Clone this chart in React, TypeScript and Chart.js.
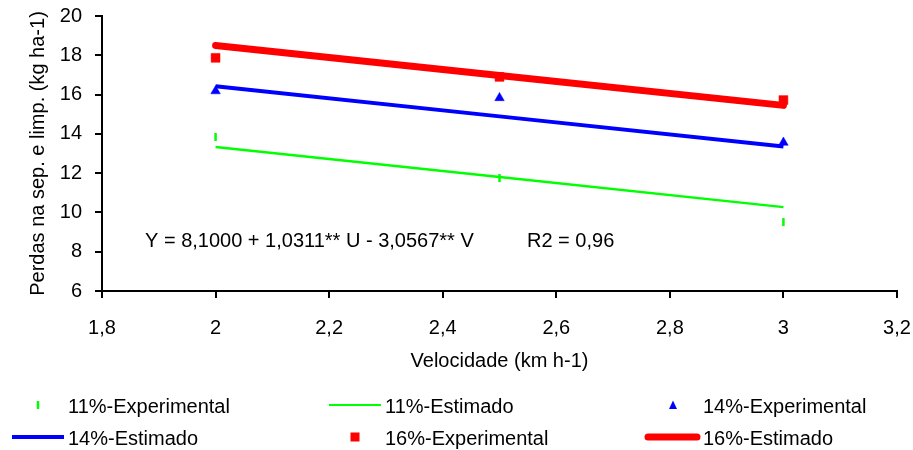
import React, { useEffect, useRef } from 'react';
import { Chart, registerables } from 'chart.js';

Chart.register(...registerables);

// ---- data ----
const xExperimental = [2, 2.5, 3];
const exp11 = [13.84, 11.75, 9.51];
const exp14 = [16.18, 15.83, 13.56];
const exp16 = [17.87, 16.9, 15.72];

const xEstimated = [2, 2.5, 3];
const est11 = [13.33, 11.8, 10.27];
const est14 = [16.42, 14.89, 13.36];
const est16 = [18.5, 16.97, 15.45];

const xTickValues = [1.8, 2, 2.2, 2.4, 2.6, 2.8, 3, 3.2];
const xTickLabels = ['1,8', '2', '2,2', '2,4', '2,6', '2,8', '3', '3,2'];
const yTickValues = [6, 8, 10, 12, 14, 16, 18, 20];
const yTickLabels = ['6', '8', '10', '12', '14', '16', '18', '20'];

const seriesNames = [
  '11%-Experimental',
  '11%-Estimado',
  '14%-Experimental',
  '14%-Estimado',
  '16%-Experimental',
  '16%-Estimado',
];
const xTitle = 'Velocidade (km h-1)';
const yTitle = 'Perdas na sep. e limp. (kg ha-1)';
const equationText = 'Y = 8,1000 + 1,0311** U - 3,0567** V';
const r2Text = 'R2 = 0,96';

const GREEN = '#00FF00';
const BLUE = '#0000FF';
const RED = '#FF0000';
const FONT = 'Arial, "Liberation Sans", sans-serif';

const pts = (xs: number[], ys: number[]) => xs.map((x, i) => ({ x, y: ys[i] }));

const overlayPlugin = {
  id: 'overlay',
  afterDraw(chart: any) {
    const ctx = chart.ctx as CanvasRenderingContext2D;
    const ys = chart.scales.y;
    ctx.save();
    ctx.fillStyle = '#000';
    ctx.font = `20px ${FONT}`;
    ctx.textBaseline = 'middle';
    ctx.textAlign = 'left';
    // equation
    const eqY = ys.getPixelForValue(8.5);
    ctx.fillText(equationText, 145, eqY);
    ctx.fillText(r2Text, 527, eqY);

    // legend
    const rows = [407, 439];
    const cols = [68, 385, 703];
    const items = [
      { kind: 'dash', color: GREEN },
      { kind: 'line', color: GREEN, w: 2 },
      { kind: 'tri', color: BLUE },
      { kind: 'line', color: BLUE, w: 4 },
      { kind: 'rect', color: RED },
      { kind: 'line', color: RED, w: 7 },
    ];
    items.forEach((it, i) => {
      const r = Math.floor(i / 3);
      const c = i % 3;
      const tx = cols[c];
      const ty = rows[r];
      const mx = tx - 30;
      const my = ty - 2;
      ctx.save();
      if (it.kind === 'dash') {
        ctx.strokeStyle = it.color;
        ctx.lineWidth = 2.5;
        ctx.beginPath();
        ctx.moveTo(mx, my - 4);
        ctx.lineTo(mx, my + 4);
        ctx.stroke();
      } else if (it.kind === 'line') {
        ctx.strokeStyle = it.color;
        ctx.lineWidth = it.w as number;
        ctx.lineCap = it.w === 7 ? 'round' : 'butt';
        ctx.beginPath();
        const x0 = it.w === 7 ? tx - 55 : tx - 56;
        const x1 = it.w === 7 ? tx - 6 : tx - 4;
        ctx.moveTo(x0, my);
        ctx.lineTo(x1, my);
        ctx.stroke();
      } else if (it.kind === 'tri') {
        ctx.fillStyle = it.color;
        ctx.beginPath();
        ctx.moveTo(mx, my - 4.5);
        ctx.lineTo(mx + 4, my + 4);
        ctx.lineTo(mx - 4, my + 4);
        ctx.closePath();
        ctx.fill();
      } else if (it.kind === 'rect') {
        ctx.fillStyle = it.color;
        ctx.fillRect(mx - 4.5, my - 4.5, 9, 9);
      }
      ctx.restore();
      ctx.fillStyle = '#000';
      ctx.fillText(seriesNames[i], tx, ty);
    });
    ctx.restore();
  },
};

export default function App() {
  const ref = useRef<HTMLCanvasElement | null>(null);
  useEffect(() => {
    document.body.style.margin = '0';
    const canvas = ref.current;
    if (!canvas) return;
    const tickFont = { family: FONT, size: 20 };
    const chart = new Chart(canvas, {
      type: 'scatter',
      data: {
        datasets: [
          {
            label: seriesNames[0],
            data: pts(xExperimental, exp11),
            showLine: false,
            pointStyle: 'line',
            rotation: 90,
            pointRadius: 4,
            borderWidth: 2.5,
            borderColor: GREEN,
            backgroundColor: GREEN,
            order: 5,
          },
          {
            label: seriesNames[1],
            data: pts(xEstimated, est11),
            showLine: true,
            pointRadius: 0,
            borderWidth: 2.5,
            borderColor: GREEN,
            backgroundColor: GREEN,
            order: 4,
          },
          {
            label: seriesNames[2],
            data: pts(xExperimental, exp14),
            showLine: false,
            pointStyle: 'triangle',
            pointRadius: 5.5,
            borderWidth: 0.5,
            borderColor: BLUE,
            backgroundColor: BLUE,
            order: 3,
          },
          {
            label: seriesNames[3],
            data: pts(xEstimated, est14),
            showLine: true,
            pointRadius: 0,
            borderWidth: 4,
            borderColor: BLUE,
            backgroundColor: BLUE,
            order: 2,
          },
          {
            label: seriesNames[4],
            data: pts(xExperimental, exp16),
            showLine: false,
            pointStyle: 'rect',
            pointRadius: 6.3,
            borderWidth: 0.5,
            borderColor: RED,
            backgroundColor: RED,
            order: 1,
          },
          {
            label: seriesNames[5],
            data: pts(xEstimated, est16),
            showLine: true,
            pointRadius: 0,
            borderWidth: 7,
            borderCapStyle: 'round',
            borderColor: RED,
            backgroundColor: RED,
            order: 0,
          },
        ],
      },
      options: {
        responsive: false,
        animation: false,
        events: [],
        layout: { padding: { left: 0, right: 16, top: 16, bottom: 79 } },
        plugins: {
          legend: { display: false },
          tooltip: { enabled: false },
          title: { display: false },
        },
        scales: {
          x: {
            type: 'linear',
            min: 1.8,
            max: 3.2,
            afterFit: (s: any) => {
              s.height = 80;
              s.paddingLeft = 0;
              s.paddingRight = 0;
            },
            afterBuildTicks: (s: any) => {
              s.ticks = xTickValues.map((v) => ({ value: v }));
            },
            ticks: {
              font: tickFont,
              color: '#000',
              padding: 18,
              maxRotation: 0,
              autoSkip: false,
              callback: (_v: any, i: number) => xTickLabels[i],
            },
            grid: {
              drawOnChartArea: false,
              drawTicks: true,
              tickLength: 7,
              color: '#000',
              lineWidth: 2,
            },
            border: { display: true, color: '#000', width: 2 },
            title: {
              display: true,
              text: xTitle,
              font: tickFont,
              color: '#000',
              padding: { top: 0, bottom: -2 },
            },
          },
          y: {
            type: 'linear',
            min: 6,
            max: 20,
            afterFit: (s: any) => {
              s.width = 102;
              s.paddingTop = 0;
              s.paddingBottom = 0;
            },
            afterBuildTicks: (s: any) => {
              s.ticks = yTickValues.map((v) => ({ value: v }));
            },
            ticks: {
              font: tickFont,
              color: '#000',
              padding: 13,
              autoSkip: false,
              callback: (_v: any, i: number) => yTickLabels[i],
            },
            grid: {
              drawOnChartArea: false,
              drawTicks: true,
              tickLength: 7,
              color: '#000',
              lineWidth: 2,
            },
            border: { display: true, color: '#000', width: 2 },
            title: {
              display: true,
              text: yTitle,
              font: tickFont,
              color: '#000',
              padding: { top: 26, bottom: 0 },
            },
          },
        },
      },
      plugins: [overlayPlugin],
    } as any);
    return () => chart.destroy();
  }, []);
  return <canvas ref={ref} width={913} height={450} style={{ display: 'block' }} />;
}
